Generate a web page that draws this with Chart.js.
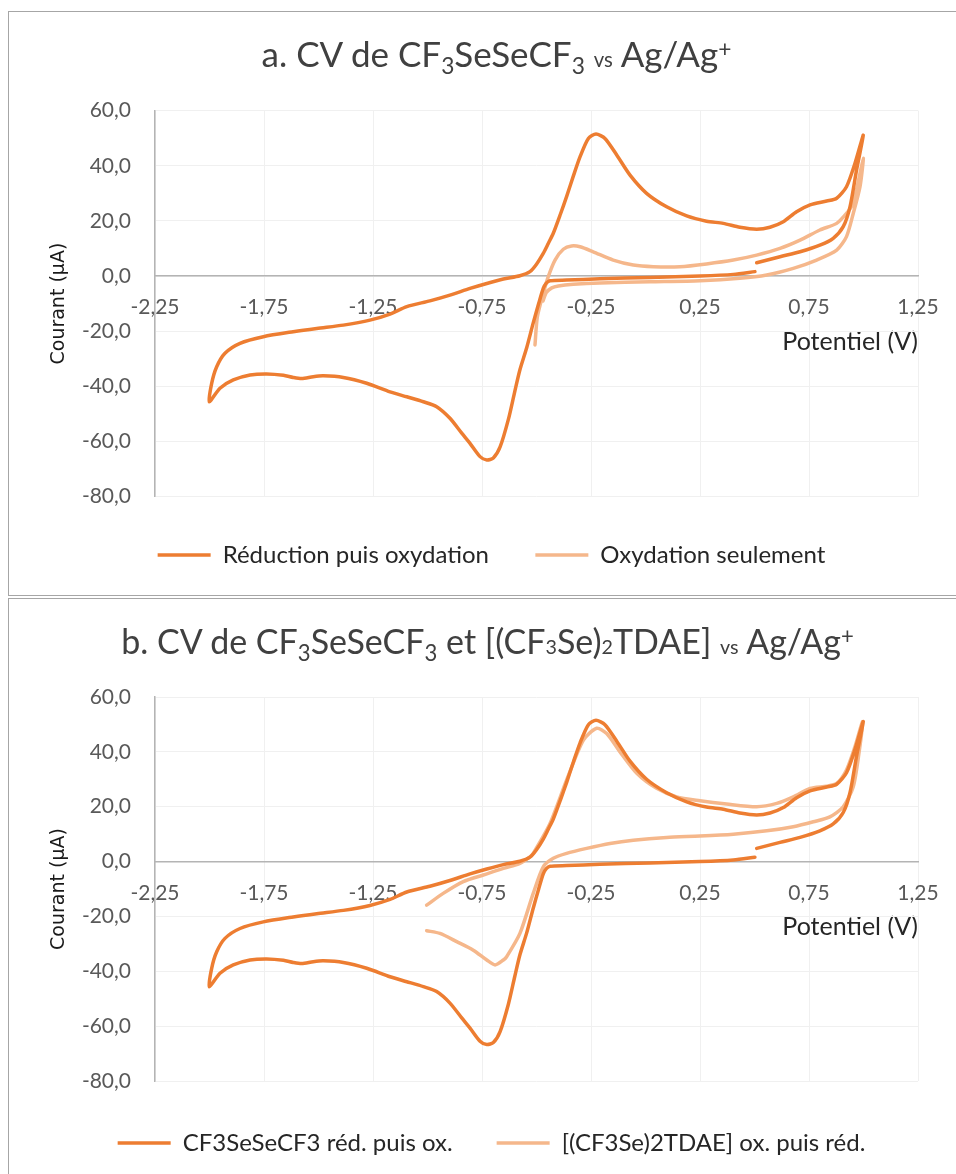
<!DOCTYPE html>
<html>
<head>
<meta charset="utf-8">
<script src="https://cdn.jsdelivr.net/npm/chart.js@4.4.1/dist/chart.umd.min.js"></script>
<style>
html, body { margin: 0; padding: 0; background: #fff; overflow: hidden; width: 956px; height: 1174px; }
.panneau { position: absolute; left: 8px; width: 992px; box-sizing: border-box; border: 1px solid #a6a6a6; background: #fff; }
#panneauA { top: 11px; height: 585px; }
#panneauB { top: 598px; height: 600px; }
.titre { position: absolute; left: 0; width: 975px; text-align: center; font-family: Lato, sans-serif; font-size: 34px; line-height: 40px; color: #404040; white-space: nowrap; }
.titre sub { font-size: 65%; vertical-align: baseline; position: relative; top: 0.3em; line-height: 0; }
.titre sup { font-size: 65%; vertical-align: baseline; position: relative; top: -0.45em; line-height: 0; }
.titre .petit { font-size: 58%; }
canvas { position: absolute; left: 0; top: 0; }
</style>
</head>
<body>
<div class="panneau" id="panneauA">
  <canvas id="cvA" width="975" height="583"></canvas>
  <div class="titre" style="top:21px;font-size:35px">a. CV de CF<sub>3</sub>SeSeCF<sub>3</sub> <span class="petit">vs</span> Ag/Ag<sup>+</sup></div>
</div>
<div class="panneau" id="panneauB">
  <canvas id="cvB" width="975" height="585"></canvas>
  <div class="titre" style="top:22px;left:-9px">b. CV de CF<sub>3</sub>SeSeCF<sub>3</sub> et [(CF<span class="petit">3</span>Se)<span class="petit">2</span>TDAE] <span class="petit">vs</span> Ag/Ag<sup>+</sup></div>
</div>
<script>
// Axes
const potentielTicks = [-2.25, -1.75, -1.25, -0.75, -0.25, 0.25, 0.75, 1.25];
const courantTicks = [-80, -60, -40, -20, 0, 20, 40, 60];

// CF3SeSeCF3 : réduction puis oxydation (départ 0,5 V)
const potentielRed = [0.502, 0.403, 0.25, 0.021, -0.209, -0.362, -0.438, -0.455, -0.469, -0.49, -0.515, -0.545, -0.576, -0.6, -0.629, -0.667, -0.698, -0.728, -0.759, -0.805, -0.843, -0.897, -0.958, -1.019, -1.095, -1.172, -1.279, -1.386, -1.478, -1.524, -1.577, -1.616, -1.661, -1.738, -1.814, -1.891, -1.952, -2.001,
  -1.99, -1.967, -1.929, -1.86, -1.753, -1.616, -1.508, -1.386, -1.264, -1.172, -1.095, -0.989, -0.897, -0.805, -0.728, -0.652, -0.576, -0.53, -0.5, -0.469, -0.446, -0.423, -0.39, -0.362, -0.33, -0.3, -0.262, -0.227, -0.186, -0.132, -0.071, 0.005, 0.097, 0.189, 0.28, 0.357, 0.433, 0.51, 0.571, 0.632, 0.693, 0.755, 0.831, 0.877, 0.922, 0.961, 0.999,
  0.968, 0.938, 0.907, 0.861, 0.8, 0.709, 0.617, 0.51];
const courantRed = [1.6, 0.6, 0, -0.5, -1.0, -1.45, -1.7, -2.6, -4.5, -10, -17, -26, -34, -42, -52, -62, -66, -66.7, -65.5, -60.7, -57, -51.6, -47.4, -45.6, -43.8, -42, -38.9, -36.8, -36.2, -36.5, -37.2, -36.8, -36, -35.5, -35.9, -37.7, -40.7, -45.6,
  -38.9, -32.9, -28, -24.4, -22, -20.2, -19, -17.8, -16, -13.8, -11.1, -9, -6.9, -4.5, -2.7, -1.1, 0.1, 1.6, 4.3, 8.2, 11.8, 15.5, 22.5, 28.8, 36.5, 43.3, 49.9, 51.5, 49.9, 43.9, 36.6, 30, 25.1, 21.8, 19.9, 19.1, 17.7, 17, 17.7, 19.7, 23.3, 25.8, 27.2, 28.2, 32.4, 40.9, 51.1,
  38.4, 25.1, 17.9, 13.7, 11.2, 8.8, 7, 4.8];

// Oxydation seulement
const potentielOx = [-0.47, -0.455, -0.43, -0.4, -0.331, -0.209, 0.021, 0.25, 0.433, 0.556, 0.678, 0.785, 0.877, 0.922, 0.953, 0.984, 0.999,
  0.97, 0.95, 0.922, 0.877, 0.8, 0.709, 0.617, 0.51, 0.403, 0.28, 0.158, 0.036, -0.056, -0.148, -0.24, -0.3, -0.339, -0.377, -0.415, -0.446, -0.469, -0.496, -0.507];
const courantOx = [-9, -6, -4.3, -3.6, -3, -2.5, -2.1, -1.7, -0.8, 0.4, 2.8, 5.8, 9.4, 14.3, 22.7, 32.4, 42.7,
  32, 26, 22.7, 19.1, 16.7, 13, 10, 7.6, 5.8, 4.4, 3.4, 3.4, 4, 5.8, 8.8, 10.6, 10.9, 9.7, 5.8, -0.2, -6.3, -14.8, -25];

// [(CF3Se)2TDAE] : oxydation puis réduction
const potentielTdae = [-1.004, -0.928, -0.836, -0.744, -0.652, -0.576, -0.53, -0.515, -0.438, -0.362, -0.285, -0.224, -0.178, -0.117, -0.04, 0.051, 0.143, 0.25, 0.372, 0.51, 0.602, 0.678, 0.755, 0.831, 0.877, 0.922, 0.961, 0.996,
  0.98, 0.953, 0.907, 0.846, 0.77, 0.678, 0.556, 0.403, 0.25, 0.097, -0.056, -0.163, -0.27, -0.362, -0.423, -0.469, -0.515, -0.576, -0.637, -0.652, -0.69, -0.728, -0.79, -0.866, -0.943, -1.004];
const courantTdae = [-15.9, -11.6, -7.3, -4.9, -2.5, -0.7, 1.7, 3, 13.9, 29.7, 44.3, 48.6, 46.7, 40, 32.2, 26.7, 23.6, 22.2, 21, 20, 21.2, 23.6, 26.7, 27.5, 28.5, 33.4, 41.9, 51,
  40, 27.3, 20, 16.3, 14.5, 12.7, 11.2, 10, 9.3, 8.8, 7.8, 6.6, 4.8, 3, 1.2, -1.9, -11.6, -26.2, -34.7, -35.9, -37.7, -35.9, -32.3, -29.2, -26.2, -25.2];

const orange = '#ED7D31';
const orangeClair = '#F5B78B';

Chart.defaults.font.family = 'Lato';

const points = (xs, ys) => xs.map((x, i) => ({ x: x, y: ys[i] }));

function serie(label, xs, ys, couleur) {
    return {
        label: label,
        data: points(xs, ys),
        showLine: true,
        borderColor: couleur,
        backgroundColor: couleur,
        borderWidth: 3.5,
        pointRadius: 0,
        pointHoverRadius: 0,
        tension: 0.25,
        fill: false,
        borderJoinStyle: 'round',
        borderCapStyle: 'round'
    };
}

// haut : marge au-dessus du tracé, legPad : écart entre items, legHaut : décalage vertical de la légende,
// titreX : distance axe -> "Potentiel (V)"
function options(cfg) {
    const hx = 19;
    return {
        responsive: false,
        animation: false,
        layout: { padding: { left: 56, right: 66, top: cfg.haut, bottom: cfg.basPad } },
        plugins: {
            tooltip: { enabled: false },
            legend: {
                position: 'bottom',
                title: { display: cfg.legHaut > 0, text: ' ', font: { size: cfg.legHaut / 1.2 }, padding: 0 },
                labels: {
                    usePointStyle: true,
                    pointStyle: 'line',
                    pointStyleWidth: 53,
                    color: '#262626',
                    font: { size: 24 },
                    padding: cfg.legPad
                }
            }
        },
        scales: {
            x: {
                type: 'linear',
                position: { y: 0 },
                min: -2.25,
                max: 1.25,
                afterBuildTicks: s => { s.ticks = potentielTicks.map(v => ({ value: v })); },
                afterFit: s => { s.height = hx; },
                ticks: {
                    color: '#595959',
                    font: { size: 21 },
                    padding: 19,
                    maxRotation: 0,
                    autoSkip: false,
                    callback: v => v.toFixed(2).replace('.', ',')
                },
                grid: { color: '#f0f0f0', lineWidth: 1, drawTicks: false },
                border: { color: '#b4b4b4', width: 1.5 },
                title: {
                    display: true,
                    text: 'Potentiel (V)',
                    align: 'end',
                    color: '#262626',
                    font: { size: 25 },
                    padding: { top: 0, bottom: hx - 15 - cfg.titreX }
                }
            },
            y: {
                type: 'linear',
                min: -80,
                max: 60,
                afterBuildTicks: s => { s.ticks = courantTicks.map(v => ({ value: v })); },
                afterFit: s => { s.width = 90; },
                ticks: {
                    color: '#595959',
                    font: { size: 21 },
                    padding: 24,
                    callback: v => v.toFixed(1).replace('.', ',')
                },
                grid: { color: '#f0f0f0', lineWidth: 1, drawTicks: false },
                border: { color: '#b4b4b4', width: 1.5 },
                title: {
                    display: true,
                    text: 'Courant (µA)',
                    color: '#1a1a1a',
                    font: { family: 'DejaVu Sans', size: 19 },
                    padding: { top: -17.4, bottom: 0 }
                }
            }
        }
    };
}

new Chart(document.getElementById('cvA'), {
    type: 'scatter',
    data: {
        datasets: [
            serie('Réduction puis oxydation', potentielRed, courantRed, orange),
            serie('Oxydation seulement', potentielOx, courantOx, orangeClair)
        ]
    },
    options: options({ haut: 98.6, basPad: 18, legPad: 46.4, legHaut: 0, titreX: 65.7 })
});

new Chart(document.getElementById('cvB'), {
    type: 'scatter',
    data: {
        datasets: [
            serie('CF3SeSeCF3 réd. puis ox.', potentielRed, courantRed, orange),
            serie('[(CF3Se)2TDAE] ox. puis réd.', potentielTdae, courantTdae, orangeClair)
        ]
    },
    options: options({ haut: 98, basPad: 19, legPad: 44, legHaut: 6, titreX: 65.2 })
});
</script>
</body>
</html>
